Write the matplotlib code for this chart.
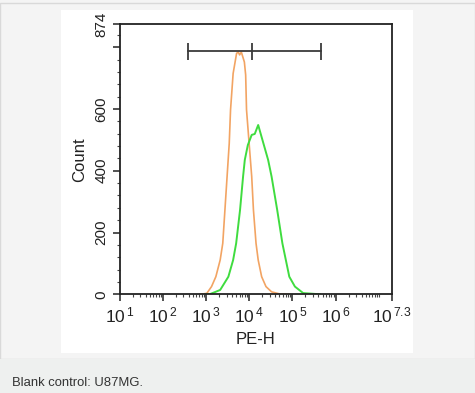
import matplotlib
matplotlib.use('Agg')
import matplotlib.pyplot as plt
from matplotlib.patches import Rectangle
from matplotlib.ticker import FixedLocator, NullFormatter
import numpy as np

plt.rcParams['font.family'] = ['Liberation Sans', 'DejaVu Sans']
plt.rcParams['mathtext.fontset'] = 'custom'
plt.rcParams['mathtext.rm'] = 'Liberation Sans'
plt.rcParams['mathtext.it'] = 'Liberation Sans:italic'
plt.rcParams['mathtext.bf'] = 'Liberation Sans:bold'

# blank control histogram (orange), log10(PE-H) vs count
blank_exp = [2.86, 3.02, 3.13, 3.23, 3.33, 3.39, 3.44, 3.49, 3.54, 3.57, 3.63,
             3.71, 3.75, 3.78, 3.82, 3.89, 3.92, 3.94, 4.00, 4.06, 4.10, 4.16,
             4.21, 4.29, 4.39, 4.52, 4.71, 4.94]
blank_count = [0, 3, 25, 57, 111, 165, 273, 381, 489, 597, 715,
               780, 784, 775, 784, 752, 710, 597, 489, 381, 273, 165,
               111, 57, 25, 8, 1, 0]

# stained sample histogram (green)
sample_exp = [2.98, 3.10, 3.33, 3.52, 3.63, 3.70, 3.79, 3.86, 3.90, 3.97, 4.06,
              4.13, 4.21, 4.33, 4.44, 4.52, 4.65, 4.77, 4.85, 4.93, 5.06, 5.25,
              5.64]
sample_count = [0, 1, 14, 57, 111, 165, 273, 381, 435, 483, 516,
                519, 548, 489, 435, 381, 273, 165, 111, 57, 25, 4,
                0]

# gate marker
gate_x = [390, 11400, 472000]
gate_y = 787

xtick_exp = [1, 2, 3, 4, 5, 6, 7.3]
xtick_labels = [r'$10^{\,1}$', r'$10^{\,2}$', r'$10^{\,3}$', r'$10^{\,4}$',
                r'$10^{\,5}$', r'$10^{\,6}$', r'$10^{\,7.3}$']
ytick_vals = [0, 200, 400, 600, 800, 874]
ytick_labels = ['0', '200', '400', '600', '', '874']

W, H = 475, 393
fig = plt.figure(figsize=(W / 100, H / 100), dpi=100)
fig.patch.set_facecolor('#f4f4f4')

def px_rect(x0, y0, x1, y1, **kw):
    fig.add_artist(Rectangle((x0 / W, 1 - y1 / H), (x1 - x0) / W, (y1 - y0) / H,
                             transform=fig.transFigure, zorder=-10, **kw))

px_rect(0, 3, W, 359, facecolor='#f4f4f4', edgecolor='#d9d9d9', linewidth=1)
px_rect(0, 359, W, H, facecolor='#eef0ef', edgecolor='none')
px_rect(61, 10, 413, 353, facecolor='white', edgecolor='none')

ax = fig.add_axes([119.5 / W, 1 - 294.3 / H, (391.7 - 119.5) / W, (294.3 - 24.3) / H])
ax.set_facecolor('white')

ax.plot(10 ** np.array(blank_exp), blank_count, color='#f2a463', lw=1.2)
ax.plot(10 ** np.array(sample_exp), sample_count, color='#3fdc3f', lw=1.4)

ax.plot(gate_x[::2], [gate_y, gate_y], color='#3a3a3a', lw=1.3)
ax.vlines(gate_x, gate_y - 28, gate_y + 28, color='#3a3a3a', lw=1.3)

ax.set_xscale('log')
ax.set_xlim(10, 10 ** 7.3)
ax.set_ylim(0, 874)

ax.set_xticks([10 ** e for e in xtick_exp])
ax.set_xticklabels(xtick_labels, fontsize=12.5, color='#222222')
minor = [m * 10 ** d for d in range(1, 8) for m in range(2, 10) if m * 10 ** d < 10 ** 7.3]
minor.append(1e7)
ax.xaxis.set_minor_locator(FixedLocator(minor))
ax.xaxis.set_minor_formatter(NullFormatter())

ax.set_yticks(ytick_vals)
ax.set_yticklabels(ytick_labels, fontsize=11, rotation=90, va='center', color='#222222')
ax.yaxis.set_minor_locator(FixedLocator([v for v in range(40, 874, 40) if v % 200]))

ax.tick_params(which='major', direction='out', length=5, width=1.1, color='#222222', pad=3)
ax.tick_params(which='minor', direction='out', length=2.5, width=0.8, color='#444444')
ax.tick_params(axis='x', which='major', pad=3)
for s in ax.spines.values():
    s.set_linewidth(1.3)
    s.set_color('#222222')

ax.set_xlabel('PE-H', fontsize=12, labelpad=5, color='#222222')
ax.set_ylabel('Count', fontsize=12, labelpad=5, color='#222222')

fig.text(12 / W, 1 - 383 / H, 'Blank control: U87MG.', fontsize=9.4, color='#333333',
         va='center', ha='left')

fig.savefig('out.png', dpi=100, facecolor=fig.get_facecolor())
